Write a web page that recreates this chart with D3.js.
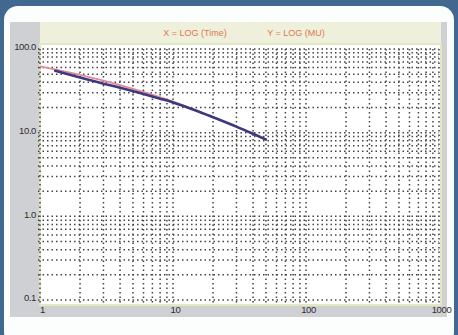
<!DOCTYPE html>
<html>
<head>
<meta charset="utf-8">
<script src="https://cdnjs.cloudflare.com/ajax/libs/d3/7.8.5/d3.min.js"></script>
<style>
  body { margin: 0; background: #41698f; }
  svg { display: block; }
</style>
</head>
<body>
<svg id="chart" width="458" height="335"></svg>
<script>
// tick labels
var xTicks = [1, 10, 100, 1000];
var yTicks = [0.1, 1, 10, 100];

// measured curve (dark line)
var measTime = [1.3, 2, 3, 4, 6, 8, 10, 15, 20, 30, 40, 50];
var measMU   = [55, 45.5, 38.5, 34.5, 29, 25.5, 23, 18.3, 15.3, 11.8, 9.7, 8.3];

// fitted line (pink)
var fitTime = [1, 2, 4, 10, 20, 50];
var fitMU   = [62, 49, 37, 23.5, 15.3, 8.2];

var svg = d3.select("#chart");

// white panel
svg.append("rect")
  .attr("x", 4).attr("y", 6)
  .attr("width", 450).attr("height", 340)
  .attr("rx", 14)
  .style("fill", "#fcfdfd");

// grey frame round the chart
svg.append("rect")
  .attr("x", 10).attr("y", 22)
  .attr("width", 437).attr("height", 295)
  .style("fill", "#cfd0d4");

// header band
svg.append("rect")
  .attr("x", 40).attr("y", 22)
  .attr("width", 401).attr("height", 22)
  .style("fill", "#eef0dc");

// plot area
svg.append("rect")
  .attr("x", 40).attr("y", 44)
  .attr("width", 401).attr("height", 261)
  .style("fill", "#ffffff")
  .style("stroke", "#e3e8c4")
  .style("stroke-width", 2);

var x = d3.scaleLog().domain([1, 1000]).range([40, 439]);
var y = d3.scaleLog().domain([0.1, 100]).range([300, 49]);

// all minor values 1..9 per decade
var gridX = [], gridY = [];
[1, 10, 100].forEach(function(dec) {
  for (var i = 1; i <= 9; i++) gridX.push(i * dec);
});
gridX.push(1000);
[0.1, 1, 10].forEach(function(dec) {
  for (var i = 1; i <= 9; i++) gridY.push(+(i * dec).toFixed(2));
});
gridY.push(100);

var grid = svg.append("g").attr("class", "grid");

grid.selectAll("line.v")
  .data(gridX)
  .enter().append("line")
  .attr("class", "v")
  .attr("x1", function(d) { return x(d); })
  .attr("x2", function(d) { return x(d); })
  .attr("y1", y(100))
  .attr("y2", y(0.1) + 4);

grid.selectAll("line.h")
  .data(gridY)
  .enter().append("line")
  .attr("class", "h")
  .attr("x1", x(1) - 2)
  .attr("x2", x(1000))
  .attr("y1", function(d) { return y(d); })
  .attr("y2", function(d) { return y(d); });

grid.selectAll("line")
  .style("stroke", "#444")
  .style("stroke-width", 1.5)
  .style("stroke-dasharray", "1.5,3");

// lines
var line = d3.line()
  .curve(d3.curveMonotoneX)
  .x(function(d) { return x(d[0]); })
  .y(function(d) { return y(d[1]); });

svg.append("path")
  .datum(d3.zip(fitTime, fitMU))
  .attr("d", line)
  .style("fill", "none")
  .style("stroke", "#e38a98")
  .style("stroke-width", 1.8);

svg.append("path")
  .datum(d3.zip(measTime, measMU))
  .attr("d", line)
  .style("fill", "none")
  .style("stroke", "#3b3a7e")
  .style("stroke-width", 2.6)
  .style("stroke-linecap", "round");

// axes
var yAxis = d3.axisLeft(y)
  .tickValues(yTicks)
  .tickFormat(d3.format(".1f"))
  .tickSize(0)
  .tickPadding(4);

var gy = svg.append("g")
  .attr("transform", "translate(40,0)")
  .call(yAxis);
gy.select(".domain").remove();
gy.selectAll("text").attr("dy", "0.1em");

var xAxis = d3.axisBottom(x)
  .tickValues(xTicks)
  .tickFormat(d3.format("d"))
  .tickSize(0)
  .tickPadding(6);

var gx = svg.append("g")
  .attr("transform", "translate(2,300)")
  .call(xAxis);
gx.select(".domain").remove();

svg.selectAll(".tick text")
  .style("font-family", "'Liberation Sans', Arial, sans-serif")
  .style("font-size", "9.5px")
  .style("fill", "#2e2e2e")
  .style("letter-spacing", "-0.4px");

// title in the header band
svg.append("text")
  .attr("x", 195).attr("y", 36)
  .attr("text-anchor", "middle")
  .style("font-family", "'Liberation Sans', Arial, sans-serif")
  .style("font-size", "9px")
  .style("fill", "#e2774f")
  .text("X = LOG (Time)");

svg.append("text")
  .attr("x", 296).attr("y", 36)
  .attr("text-anchor", "middle")
  .style("font-family", "'Liberation Sans', Arial, sans-serif")
  .style("font-size", "9px")
  .style("fill", "#e2774f")
  .text("Y = LOG (MU)");
</script>
</body>
</html>
